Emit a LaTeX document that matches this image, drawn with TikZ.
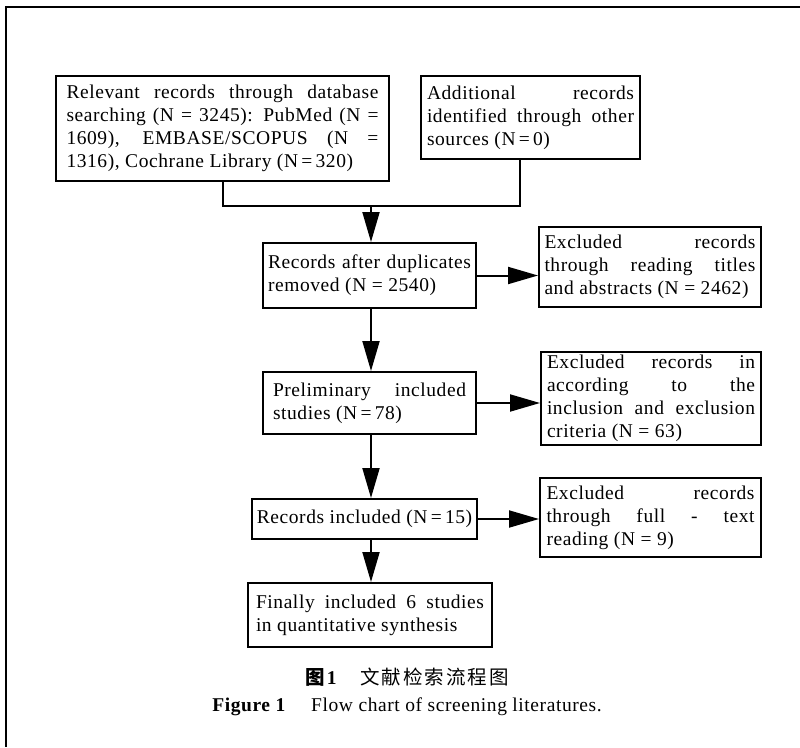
\documentclass[tikz,border=0pt]{standalone}
\usepackage{fontspec}
\setmainfont{Liberation Serif}[LetterSpace=3]
\newfontfamily\cjk{Noto Sans CJK SC}[LetterSpace=10]
\usetikzlibrary{arrows.meta}
\tikzset{
  box/.style={draw, line width=2pt, align=justify, inner ysep=0pt,
    font=\fontsize{19.5}{23}\selectfont, anchor=center},
  arr/.style={line width=2pt, -{Triangle[length=30pt,width=17pt]}},
  ln/.style={line width=2pt},
  captext/.style={font=\fontsize{19.5}{23}\selectfont, inner sep=0pt},
}
\begin{document}
\begin{tikzpicture}[x=1pt,y=-1pt]
\useasboundingbox (0,0) rectangle (800,747);
\draw[ln] (800,7) -- (6,7) -- (6,747);

\node[box, inner xsep=10.5pt, text width=312pt, minimum height=105pt] (A) at (222.5,128.5)
 {Relevant records through database\linebreak searching (N = 3245): PubMed (N =\linebreak 1609), EMBASE/SCOPUS (N =\linebreak 1316), Cochrane Library (N\,=\,320)};
\node[box, inner xsep=6pt, text width=207pt, minimum height=83pt] (B) at (530.5,117.5)
 {Additional records\linebreak identified through other\linebreak sources (N\,=\,0)};
\node[box, inner xsep=5pt, text width=203pt, minimum height=65pt] (C) at (369.5,275.5)
 {Records after duplicates\linebreak removed (N = 2540)};
\node[box, inner xsep=10pt, text width=193pt, minimum height=62pt] (D) at (369.5,403)
 {Preliminary included\linebreak studies (N\,=\,78)};
\node[box, align=center, inner xsep=2pt, minimum width=225pt, minimum height=40pt] (E) at (364.5,519)
 {Records included (N\,=\,15)};
\node[box, inner xsep=8pt, text width=228pt, minimum height=64pt] (F) at (370,615)
 {Finally included 6 studies\linebreak in quantitative synthesis};
\node[box, inner xsep=5.5pt, text width=211pt, minimum height=80pt] (R1) at (650,267)
 {Excluded records\linebreak through reading titles\linebreak and abstracts (N = 2462)};
\node[box, inner xsep=6pt, text width=208pt, minimum height=93pt] (R2) at (651,398.5)
 {Excluded records in\linebreak according to the\linebreak inclusion and exclusion\linebreak criteria (N = 63)};
\node[box, inner xsep=6.5pt, text width=208pt, minimum height=79pt] (R3) at (650.5,517.5)
 {Excluded records\linebreak through full - text\linebreak reading (N = 9)};

\coordinate (j) at (371,206);
\coordinate (bj) at (520,0);
\draw[ln] (A.south) |- (j) -| (B.south -| bj);
\draw[arr] (j) -- (C.north -| j);
\draw[arr] (C.south -| j) -- (D.north -| j);
\draw[arr] (D.south -| j) -- (E.north -| j);
\draw[arr] (E.south -| j) -- (F.north -| j);
\draw[arr] (C.east) -- (C.east -| R1.west);
\draw[arr] (D.east) -- (D.east -| R2.west);
\draw[arr] (E.east) -- (E.east -| R3.west);

\node[captext] (cap1) at (407,677) {{\cjk\bfseries 图}\textbf{1}\hspace{1.2em}{\cjk 文献检索流程图}};
\node[captext] (cap2) at (407,707) {\textbf{Figure 1}\hspace{1.3em}Flow chart of screening literatures.};
\end{tikzpicture}
\end{document}
